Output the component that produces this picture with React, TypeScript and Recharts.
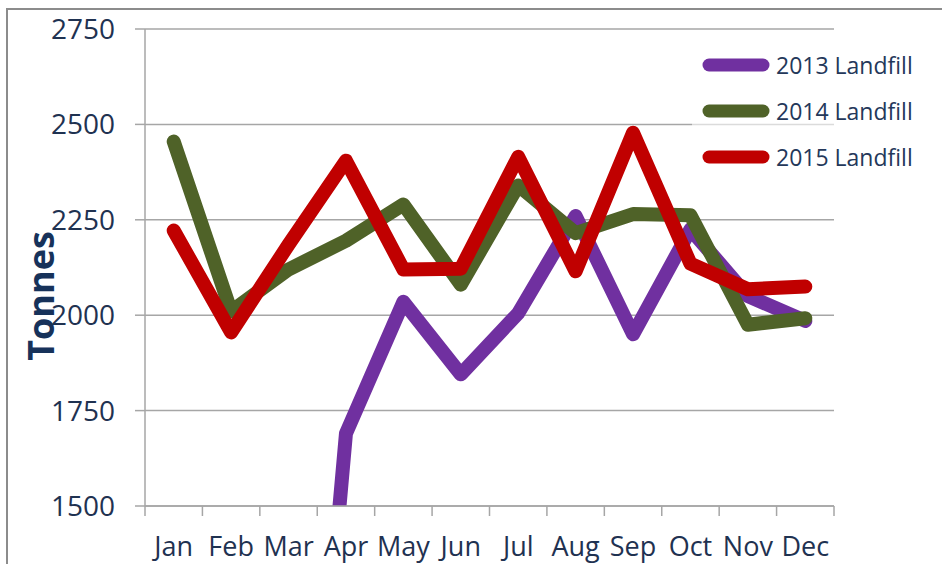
import React from 'react';
import { LineChart, Line, XAxis, YAxis, CartesianGrid } from 'recharts';

const months = ['Jan', 'Feb', 'Mar', 'Apr', 'May', 'Jun', 'Jul', 'Aug', 'Sep', 'Oct', 'Nov', 'Dec'];
const landfill2013: (number | null)[] = [null, null, 0, 1690, 2035, 1845, 2005, 2260, 1950, 2225, 2050, 1985];
const landfill2014 = [2455, 2010, 2120, 2195, 2290, 2080, 2340, 2215, 2265, 2262, 1975, 1992];
const landfill2015 = [2222, 1955, 2185, 2405, 2120, 2122, 2415, 2115, 2478, 2135, 2068, 2075];
const yTicks = [1500, 1750, 2000, 2250, 2500, 2750];

const series = [
  { key: 'l2013', name: '2013 Landfill', color: '#7030A0', values: landfill2013 },
  { key: 'l2014', name: '2014 Landfill', color: '#4F6228', values: landfill2014 },
  { key: 'l2015', name: '2015 Landfill', color: '#C00000', values: landfill2015 },
];

const data = months.map((m, i) => {
  const row: any = { month: m };
  series.forEach((s) => {
    row[s.key] = s.values[i];
  });
  return row;
});

const W = 942;
const H = 564;
const M = { top: 29, right: 108, bottom: 0, left: 0 };
const Y_W = 145;
const X_H = 58;
const plotW = W - Y_W - M.right;
const band = plotW / months.length;
const TXT = '#1F3251';
const GRID = '#A6A6A6';
const FONT = '"Open Sans", sans-serif';

const XTick = (props: any) => {
  const { x, y, payload, index } = props;
  return (
    <g>
      <line x1={x - band / 2} x2={x - band / 2} y1={y} y2={y + 10} stroke={GRID} strokeWidth={1.5} />
      {index === months.length - 1 && (
        <line x1={x + band / 2} x2={x + band / 2} y1={y} y2={y + 10} stroke={GRID} strokeWidth={1.5} />
      )}
      <text x={x} y={y + 50} textAnchor="middle" fill={TXT} fontSize={27} fontFamily={FONT}>
        {payload.value}
      </text>
    </g>
  );
};

const LegendBox = () => (
  <div
    style={{
      position: 'absolute',
      left: 692,
      top: 35,
      background: 'rgba(255,255,255,0.6)',
      width: 242,
      height: 154,
      boxSizing: 'border-box',
      paddingTop: 7,
      paddingLeft: 4,
    }}
  >
    {series.map((s) => (
      <div key={s.key} style={{ display: 'flex', alignItems: 'center', height: 46 }}>
        <svg width={80} height={16} style={{ flex: 'none' }}>
          <line x1={13} x2={67} y1={8} y2={8} stroke={s.color} strokeWidth={13} strokeLinecap="round" />
        </svg>
        <span style={{ fontFamily: FONT, fontSize: 23, color: '#24385A', whiteSpace: 'nowrap' }}>{s.name}</span>
      </div>
    ))}
  </div>
);

export default function App() {
  return (
    <div style={{ position: 'fixed', left: 0, top: 0, width: W, height: H, background: '#fff' }}>
      <div
        style={{
          position: 'absolute',
          left: 6,
          top: 8,
          width: W - 6,
          height: H - 8,
          boxSizing: 'border-box',
          borderLeft: '2px solid #8C8C8C',
          borderTop: '2px solid #8C8C8C',
        }}
      />
      <div style={{ position: 'absolute', left: 0, top: 0 }}>
        <LineChart width={W} height={H} data={data} margin={M}>
          <CartesianGrid vertical={false} stroke={GRID} strokeWidth={1.5} />
          <XAxis
            dataKey="month"
            height={X_H}
            padding={{ left: band / 2, right: band / 2 }}
            axisLine={{ stroke: GRID, strokeWidth: 1.5 }}
            tickLine={false}
            tickSize={0}
            tickMargin={0}
            tick={<XTick />}
            interval={0}
          />
          <YAxis
            width={Y_W}
            domain={[1500, 2750]}
            ticks={yTicks}
            allowDataOverflow
            axisLine={{ stroke: GRID, strokeWidth: 1.5 }}
            tickLine={{ stroke: GRID, strokeWidth: 1.5 }}
            tickSize={10}
            tickMargin={20}
            tick={{ fill: TXT, fontSize: 28, fontFamily: FONT }}
            label={{
              value: 'Tonnes',
              position: 'insideLeft',
              content: () => (
                <text
                  x={40}
                  y={296}
                  transform="rotate(-90 40 296)"
                  textAnchor="middle"
                  dominantBaseline="central"
                  fill="#17325A"
                  fontSize={36}
                  fontWeight="bold"
                  fontFamily={FONT}
                >
                  Tonnes
                </text>
              ),
            }}
          />
          {series.map((s) => (
            <Line
              key={s.key}
              dataKey={s.key}
              name={s.name}
              stroke={s.color}
              strokeWidth={14}
              strokeLinecap="round"
              strokeLinejoin="round"
              dot={false}
              activeDot={false}
              isAnimationActive={false}
              type="linear"
            />
          ))}
        </LineChart>
      </div>
      <LegendBox />
    </div>
  );
}
